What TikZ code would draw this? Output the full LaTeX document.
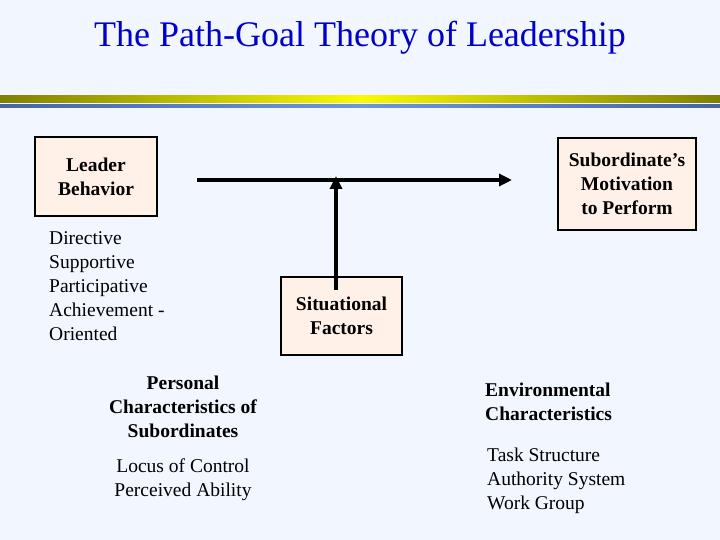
\documentclass[tikz,border=0pt]{standalone}
\usepackage{fontspec}
\setmainfont{Liberation Serif}
\usetikzlibrary{arrows.meta}
\definecolor{bgc}{RGB}{242,246,255}
\definecolor{boxfill}{RGB}{255,240,232}
\definecolor{titleblue}{RGB}{0,0,200}
\definecolor{olivec}{RGB}{128,128,0}
\definecolor{yellowc}{RGB}{250,250,0}
\definecolor{blued}{RGB}{70,100,170}
\definecolor{bluel}{RGB}{110,150,220}
\tikzset{
  box/.style={draw=black, line width=2pt, fill=boxfill, inner sep=0pt, align=center,
    font=\fontsize{19.5}{24}\selectfont\bfseries},
  txt/.style={inner sep=0pt, font=\fontsize{19.5}{24}\selectfont},
  btxt/.style={inner sep=0pt, align=center, font=\fontsize{19.5}{24}\selectfont\bfseries},
  arr/.style={line width=4pt, -{Triangle[length=13pt,width=12pt]}},
}
\begin{document}
\begin{tikzpicture}[x=1pt,y=-1pt]
\useasboundingbox (0,0) rectangle (720,540);
\fill[bgc] (0,0) rectangle (720,540);
% title
\node[font=\fontsize{36}{40}\selectfont, text=titleblue, inner sep=0pt] (title) at (360,38) {The Path-Goal Theory of Leadership};
% rule bars
\shade[left color=olivec, right color=olivec, middle color=yellowc] (0,96) rectangle (720,103);
\shade[left color=blued, right color=blued, middle color=bluel] (0,105) rectangle (720,108);
% boxes
\node[box, minimum width=122pt, minimum height=79pt] (leader) at (96,176.5) {Leader\\Behavior};
\node[box, minimum width=138pt, minimum height=92pt] (sub) at (627,184) {Subordinate’s\\Motivation\\to Perform};
\node[box, minimum width=121pt, minimum height=78pt] (sit) at (341.5,316) {Situational\\Factors};
% text blocks
\node[txt, align=left, anchor=west] (lbl) at (49,286) {Directive\\Supportive\\Participative\\Achievement -\\Oriented};
\node[btxt] (pers) at (183,407) {Personal\\Characteristics of\\Subordinates};
\node[txt, align=center] (locus) at (183,480) {Locus of Control\\Perceived Ability};
\node[btxt, align=left, anchor=west] (env) at (485,402) {Environmental\\Characteristics};
\node[txt, align=left, anchor=west] (task) at (487,481) {Task Structure\\Authority System\\Work Group};
% arrows
\coordinate (hs) at (197,180);
\coordinate (he) at (512,180);
\coordinate (vb) at (336,290);
\coordinate (vt) at (336,176);
\draw[arr] (hs) -- (he);
\draw[arr] (vb) -- (vt);
\end{tikzpicture}
\end{document}
